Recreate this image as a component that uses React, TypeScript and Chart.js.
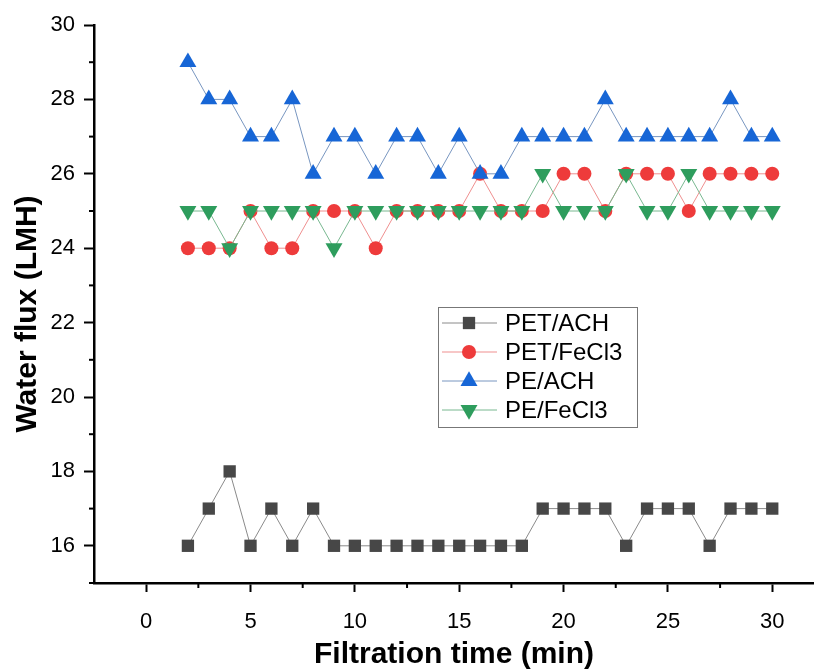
import React, { useEffect, useRef } from "react";
import { Chart, registerables } from "chart.js";

Chart.register(...registerables);

// ---- data ----
const timeMin = [2, 3, 4, 5, 6, 7, 8, 9, 10, 11, 12, 13, 14, 15, 16, 17, 18, 19, 20, 21, 22, 23, 24, 25, 26, 27, 28, 29, 30];
const petAch = [16, 17, 18, 16, 17, 16, 17, 16, 16, 16, 16, 16, 16, 16, 16, 16, 16, 17, 17, 17, 17, 16, 17, 17, 17, 16, 17, 17, 17];
const petFeCl3 = [24, 24, 24, 25, 24, 24, 25, 25, 25, 24, 25, 25, 25, 25, 26, 25, 25, 25, 26, 26, 25, 26, 26, 26, 25, 26, 26, 26, 26];
const peAch = [29, 28, 28, 27, 27, 28, 26, 27, 27, 26, 27, 27, 26, 27, 26, 26, 27, 27, 27, 27, 28, 27, 27, 27, 27, 27, 28, 27, 27];
const peFeCl3 = [25, 25, 24, 25, 25, 25, 25, 24, 25, 25, 25, 25, 25, 25, 25, 25, 25, 26, 25, 25, 25, 26, 25, 25, 26, 25, 25, 25, 25];

const seriesLabels = ["PET/ACH", "PET/FeCl3", "PE/ACH", "PE/FeCl3"];

const xTickValues = [0, 5, 10, 15, 20, 25, 30];
const xMinorTickValues = [2.5, 7.5, 12.5, 17.5, 22.5, 27.5];
const yTickValues = [16, 18, 20, 22, 24, 26, 28, 30];
const yMinorTickValues = [15, 17, 19, 21, 23, 25, 27, 29];

const xTitle = "Filtration time (min)";
const yTitle = "Water flux (LMH)";

const FONT = "'Liberation Sans', Arial, Helvetica, sans-serif";

const toPoints = (ys: number[]) => timeMin.map((x, i) => ({ x, y: ys[i] }));

function drawMarker(ctx: CanvasRenderingContext2D, style: string, r: number, rot: number, x: number, y: number) {
  ctx.beginPath();
  if (style === "rect") {
    const s = Math.SQRT1_2 * r;
    ctx.rect(x - s, y - s, 2 * s, 2 * s);
  } else if (style === "circle") {
    ctx.arc(x, y, r, 0, Math.PI * 2);
  } else if (style === "triangle") {
    let a = (rot * Math.PI) / 180;
    ctx.moveTo(x + Math.sin(a) * r, y - Math.cos(a) * r);
    a += (2 * Math.PI) / 3;
    ctx.lineTo(x + Math.sin(a) * r, y - Math.cos(a) * r);
    a += (2 * Math.PI) / 3;
    ctx.lineTo(x + Math.sin(a) * r, y - Math.cos(a) * r);
    ctx.closePath();
  }
  ctx.fill();
}

const minorTicksPlugin = {
  id: "minorTicks",
  afterDraw(chart: any) {
    const { ctx, chartArea, scales } = chart;
    ctx.save();
    ctx.strokeStyle = "#000";
    ctx.lineWidth = 2;
    xMinorTickValues.forEach((v) => {
      const px = scales.x.getPixelForValue(v);
      ctx.beginPath();
      ctx.moveTo(px, chartArea.bottom);
      ctx.lineTo(px, chartArea.bottom + 5);
      ctx.stroke();
    });
    yMinorTickValues.forEach((v) => {
      const py = scales.y.getPixelForValue(v);
      ctx.beginPath();
      ctx.moveTo(chartArea.left, py);
      ctx.lineTo(chartArea.left - 5, py);
      ctx.stroke();
    });
    ctx.restore();
  },
};

const yTitlePlugin = {
  id: "yTitleCustom",
  afterDraw(chart: any) {
    const { ctx, chartArea } = chart;
    ctx.save();
    ctx.translate(28, (chartArea.top + chartArea.bottom) / 2 + 10);
    ctx.rotate(-Math.PI / 2);
    ctx.fillStyle = "#000";
    ctx.font = `bold 30px ${FONT}`;
    ctx.textAlign = "center";
    ctx.textBaseline = "middle";
    ctx.fillText(yTitle, 0, 0);
    ctx.restore();
  },
};

const boxLegendPlugin = {
  id: "boxLegend",
  afterDraw(chart: any) {
    const { ctx } = chart;
    const left = 438;
    const top = 307;
    const width = 199;
    const height = 120;
    const rowY = [323, 352, 381, 410];
    ctx.save();
    ctx.fillStyle = "#fff";
    ctx.fillRect(left, top, width, height);
    ctx.strokeStyle = "#777";
    ctx.lineWidth = 1;
    ctx.strokeRect(left + 0.5, top + 0.5, width, height);
    chart.data.datasets.forEach((ds: any, i: number) => {
      const y = rowY[i];
      ctx.strokeStyle = ds.borderColor;
      ctx.lineWidth = 1;
      ctx.beginPath();
      ctx.moveTo(left + 4, y);
      ctx.lineTo(left + 59, y);
      ctx.stroke();
      ctx.fillStyle = ds.pointBackgroundColor;
      drawMarker(ctx, ds.pointStyle, ds.pointRadius, ds.pointRotation || 0, left + 31, y);
      ctx.fillStyle = "#000";
      ctx.font = `24px ${FONT}`;
      ctx.textBaseline = "middle";
      ctx.textAlign = "left";
      ctx.fillText(ds.label, left + 67, y + 1);
    });
    ctx.restore();
  },
};

export default function App() {
  const canvasRef = useRef<HTMLCanvasElement | null>(null);

  useEffect(() => {
    const canvas = canvasRef.current;
    if (!canvas) return;
    const chart = new Chart(canvas, {
      type: "line",
      data: {
        datasets: [
          {
            label: seriesLabels[0],
            data: toPoints(petAch),
            borderColor: "#8a8a8a",
            borderWidth: 1,
            pointStyle: "rect",
            pointRadius: 8.7,
            pointBackgroundColor: "#474747",
            pointBorderWidth: 0,
            order: 3,
          },
          {
            label: seriesLabels[1],
            data: toPoints(petFeCl3),
            borderColor: "#ef8f8f",
            borderWidth: 1,
            pointStyle: "circle",
            pointRadius: 7,
            pointBackgroundColor: "#ee3b3b",
            pointBorderWidth: 0,
            order: 2,
          },
          {
            label: seriesLabels[2],
            data: toPoints(peAch),
            borderColor: "#7896c0",
            borderWidth: 1,
            pointStyle: "triangle",
            pointRadius: 9.8,
            pointBackgroundColor: "#1766d6",
            pointBorderWidth: 0,
            order: 1,
          },
          {
            label: seriesLabels[3],
            data: toPoints(peFeCl3),
            borderColor: "#78b890",
            borderWidth: 1,
            pointStyle: "triangle",
            pointRotation: 180,
            pointRadius: 9.8,
            pointBackgroundColor: "#2e9d5d",
            pointBorderWidth: 0,
            order: 0,
          },
        ],
      },
      options: {
        animation: false,
        responsive: false,
        maintainAspectRatio: false,
        layout: { autoPadding: false, padding: { top: 25, right: 0, left: 0, bottom: 0 } },
        plugins: { legend: { display: false }, tooltip: { enabled: false } },
        scales: {
          x: {
            type: "linear",
            min: -2.5,
            max: 32,
            afterBuildTicks: (axis: any) => {
              axis.ticks = xTickValues.map((v) => ({ value: v }));
            },
            afterFit: (scale: any) => {
              scale.height = 87;
              scale.paddingRight = 0;
              scale.paddingLeft = 0;
            },
            grid: { display: true, drawOnChartArea: false, drawTicks: true, tickLength: 9, tickColor: "#000", tickWidth: 2 },
            border: { display: true, color: "#000", width: 2.5 },
            ticks: { color: "#000", font: { family: FONT, size: 22 }, padding: 17, maxRotation: 0, autoSkip: false },
            title: {
              display: true,
              text: xTitle,
              color: "#000",
              font: { family: FONT, size: 30, weight: "bold", lineHeight: 1 },
              padding: { top: 0, bottom: 0 },
            },
          },
          y: {
            type: "linear",
            min: 15,
            max: 30,
            afterBuildTicks: (axis: any) => {
              axis.ticks = yTickValues.map((v) => ({ value: v }));
            },
            afterFit: (scale: any) => {
              scale.width = 94;
              scale.paddingTop = 0;
              scale.paddingBottom = 0;
            },
            grid: { display: true, drawOnChartArea: false, drawTicks: true, tickLength: 10, tickColor: "#000", tickWidth: 2 },
            border: { display: true, color: "#000", width: 2.5 },
            ticks: { color: "#000", font: { family: FONT, size: 22 }, padding: 9 },
            title: { display: false },
          },
        },
      },
      plugins: [minorTicksPlugin, boxLegendPlugin, yTitlePlugin],
    } as any);
    return () => chart.destroy();
  }, []);

  return (
    <div style={{ position: "absolute", left: 0, top: 0, width: 814, height: 670, background: "#fff" }}>
      <canvas ref={canvasRef} width={814} height={670} style={{ display: "block", width: 814, height: 670 }} />
    </div>
  );
}
